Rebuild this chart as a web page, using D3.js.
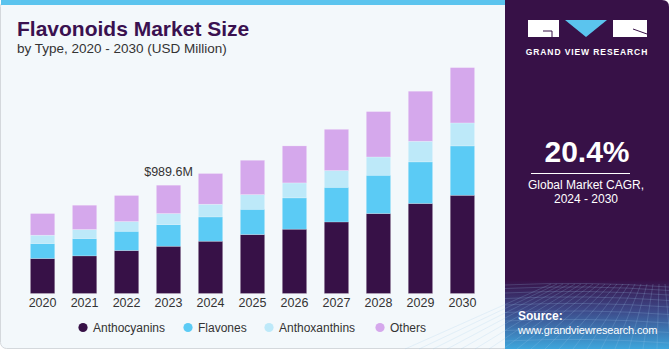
<!DOCTYPE html>
<html>
<head>
<meta charset="utf-8">
<style>
  body { margin: 0; background: #fff; }
  svg { display: block; font-family: "Liberation Sans", Arial, sans-serif; }
</style>
</head>
<body>
<script src="https://cdn.jsdelivr.net/npm/d3@7/dist/d3.min.js"></script>
<script>

  const years = ["2020", "2021", "2022", "2023", "2024", "2025", "2026", "2027", "2028", "2029", "2030"]
  const anthocyanins  = [320, 344, 393, 432, 478, 539, 588, 654, 731, 823, 898]
  const flavones      = [137, 159, 176, 198, 222, 231, 286, 317, 350, 380, 451]
  const anthoxanthins = [ 76,  82,  89, 101, 116, 134, 137, 153, 167, 189, 210]
  const others        = [198, 222, 238, 259, 281, 314, 338, 377, 415, 457, 506]
  const seriesNames = ["Anthocyanins", "Flavones", "Anthoxanthins", "Others"]
  const calloutYear = "2023", calloutText = "$989.6M"

  const width = 670, height = 350
  const colors = {Anthocyanins: '#371147', Flavones: '#5bcbf5', Anthoxanthins: '#bde9f9', Others: '#d5a8ec'}
  const purple = '#371147'

  const svg = d3.select("body").append("svg")
      .attr("width", width)
      .attr("height", height)

  const defs = svg.append("defs")
  const grad = defs.append("linearGradient").attr("id", "foot").attr("x1", 0).attr("y1", 0).attr("x2", 0).attr("y2", 1)
  grad.append("stop").attr("offset", "0%").attr("stop-color", purple)
  grad.append("stop").attr("offset", "45%").attr("stop-color", "#3d4a8a")
  grad.append("stop").attr("offset", "100%").attr("stop-color", "#3ea6dc")

  // left panel
  svg.append("rect")
    .attr("x", 0.5).attr("y", 0.5).attr("width", 520).attr("height", 348)
    .attr("rx", 6)
    .attr("fill", "#f3f8fb").attr("stroke", "#d4d8dc")
  svg.append("rect")
    .attr("x", 1).attr("y", 0).attr("width", 505).attr("height", 5)
    .attr("fill", "#5bc4ee")

  // right panel
  const side = svg.append("g")
  side.append("path")
    .attr("d", `M505,0 H662 Q669,0 669,7 V343 Q669,349 662,349 H505 Z`)
    .attr("fill", purple)
  side.append("rect")
    .attr("x", 505).attr("y", 280).attr("width", 164).attr("height", 69)
    .attr("fill", "url(#foot)")
  // faint mesh in the footer
  const mesh = side.append("g").attr("stroke", "#9fc9ee").attr("stroke-opacity", 0.35).attr("stroke-width", 0.6).attr("fill", "none")
  d3.range(0, 12).forEach(i => {
    const y = 285 + i * i * 0.5 + i * 3
    mesh.append("path").attr("d", `M505,${y} Q587,${y - 4} 669,${y + 2}`)
  })
  d3.range(-6, 20).forEach(i => {
    const x0 = 587 + i * 6, x1 = 587 + (i - 7) * 14
    mesh.append("line").attr("x1", x0).attr("y1", 284).attr("x2", x1).attr("y2", 349)
  })

  // logo
  const logo = side.append("g")
  logo.append("rect").attr("x", 528).attr("y", 20).attr("width", 31).attr("height", 17).attr("fill", "#fff")
  logo.append("path").attr("d", "M543,31 H552 V37").attr("stroke", purple).attr("stroke-width", 1).attr("fill", "none")
  logo.append("path").attr("d", "M565,20 H607 L586,37 Z").attr("fill", "#5bc4ee")
  logo.append("rect").attr("x", 613).attr("y", 20).attr("width", 34).attr("height", 17).attr("fill", "#fff")
  logo.append("path").attr("d", "M633,29 L647,34").attr("stroke", purple).attr("stroke-width", 1)
  logo.append("text")
    .attr("x", 587).attr("y", 55)
    .attr("text-anchor", "middle")
    .attr("fill", "#fff")
    .style("font-size", "8.5px").style("font-weight", "bold").style("letter-spacing", "0.9px")
    .text("GRAND VIEW RESEARCH")

  side.append("text")
    .attr("x", 587).attr("y", 162)
    .attr("text-anchor", "middle").attr("fill", "#fff")
    .style("font-size", "30px").style("font-weight", "bold")
    .text("20.4%")
  side.append("line")
    .attr("x1", 531).attr("x2", 630).attr("y1", 173.5).attr("y2", 173.5)
    .attr("stroke", "#fff").attr("stroke-width", 1)
  side.append("text")
    .attr("x", 586).attr("y", 189)
    .attr("text-anchor", "middle").attr("fill", "#fff")
    .style("font-size", "12px")
    .text("Global Market CAGR,")
  side.append("text")
    .attr("x", 586).attr("y", 203)
    .attr("text-anchor", "middle").attr("fill", "#fff")
    .style("font-size", "12px")
    .text("2024 - 2030")
  side.append("text")
    .attr("x", 518).attr("y", 320)
    .attr("fill", "#fff")
    .style("font-size", "12px").style("font-weight", "bold")
    .text("Source:")
  side.append("text")
    .attr("x", 518).attr("y", 334)
    .attr("fill", "#fff")
    .style("font-size", "11px")
    .style("letter-spacing", "-0.15px")
    .text("www.grandviewresearch.com")

  // titles
  svg.append("text")
    .attr("x", 17).attr("y", 36)
    .attr("fill", "#3a1150")
    .style("font-size", "21px").style("font-weight", "bold")
    .text("Flavonoids Market Size")
  svg.append("text")
    .attr("x", 17).attr("y", 53)
    .attr("fill", "#333")
    .style("font-size", "13.5px")
    .text("by Type, 2020 - 2030 (USD Million)")

  // chart
  const table = years.map((y, i) => ({
    year: y,
    Anthocyanins: anthocyanins[i],
    Flavones: flavones[i],
    Anthoxanthins: anthoxanthins[i],
    Others: others[i]
  }))
  const stacked = d3.stack().keys(seriesNames)(table)

  const xScale = d3.scaleBand()
    .domain(years)
    .range([22, 483])
    .paddingInner(0.42)
    .paddingOuter(0.2)

  const yScale = d3.scaleLinear()
    .domain([0, 2500])
    .range([293.5, 20])

  const chart = svg.append("g")

  chart.selectAll(".series")
    .data(stacked)
    .enter().append("g")
      .attr("class", "series")
      .attr("fill", d => colors[d.key])
    .selectAll("rect")
    .data(d => d)
    .enter().append("rect")
      .attr("x", d => xScale(d.data.year))
      .attr("y", d => yScale(d[1]))
      .attr("width", xScale.bandwidth())
      .attr("height", d => yScale(d[0]) - yScale(d[1]))
      .attr("stroke", "#ffffff").attr("stroke-opacity", 0.35).attr("stroke-width", 0.6)

  const xAxis = d3.axisBottom(xScale).tickSize(0).tickPadding(5)
  const gx = chart.append("g")
    .attr("transform", `translate(0, ${yScale(0)})`)
    .call(xAxis)
  gx.select(".domain").remove()
  gx.selectAll("text")
    .attr("fill", "#333")
    .style("font-size", "12.5px")
    .style("font-family", "Liberation Sans, Arial, sans-serif")

  const ci = years.indexOf(calloutYear)
  const calloutTotal = anthocyanins[ci] + flavones[ci] + anthoxanthins[ci] + others[ci]
  chart.append("text")
    .attr("x", xScale(calloutYear) + xScale.bandwidth() / 2)
    .attr("y", yScale(calloutTotal) - 9)
    .attr("text-anchor", "middle")
    .attr("fill", "#333")
    .style("font-size", "12.5px")
    .text(calloutText)

  // legend
  const legendX = [83, 188, 269, 380]
  const legend = svg.append("g").selectAll("g")
    .data(seriesNames)
    .enter().append("g")
      .attr("transform", (d, i) => `translate(${legendX[i]}, 327.5)`)
  legend.append("circle")
    .attr("r", 4.6)
    .attr("fill", d => colors[d])
  legend.append("text")
    .attr("x", 10).attr("y", 4.3)
    .attr("fill", "#333")
    .style("font-size", "12px")
    .text(d => d)

</script>
</body>
</html>
